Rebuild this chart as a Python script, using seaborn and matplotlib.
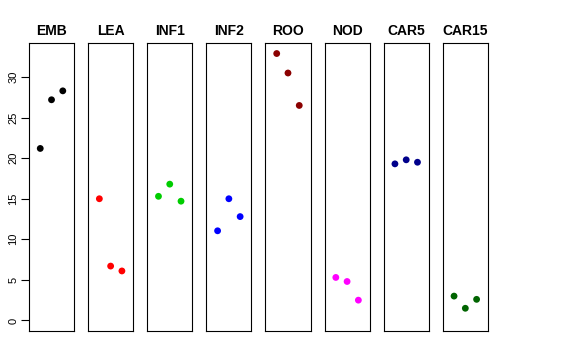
import pandas as pd
import seaborn as sns
import matplotlib.pyplot as plt

# Values (3 replicates per tissue)
tissues = ["EMB", "LEA", "INF1", "INF2", "ROO", "NOD", "CAR5", "CAR15"]
emb = [21.2, 27.2, 28.3]
lea = [15.0, 6.7, 6.1]
inf1 = [15.3, 16.8, 14.7]
inf2 = [11.05, 15.0, 12.8]
roo = [32.9, 30.5, 26.5]
nod = [5.3, 4.8, 2.5]
car5 = [19.3, 19.8, 19.5]
car15 = [3.0, 1.5, 2.6]
colors = ["black", "red", "#00CD00", "blue", "#8B0000", "magenta", "#00008B", "#006400"]
yticks = [0, 5, 10, 15, 20, 25, 30]

values = [emb, lea, inf1, inf2, roo, nod, car5, car15]
rows = []
for t, v in zip(tissues, values):
    for i, y in enumerate(v):
        rows.append({"tissue": t, "rep": i + 1, "value": y})
df = pd.DataFrame(rows)

sns.set_style("white")
plt.rcParams["font.family"] = ["Liberation Sans", "DejaVu Sans"]
plt.rcParams["text.color"] = "black"
plt.rcParams["ytick.color"] = "black"
plt.rcParams["ytick.labelcolor"] = "black"

fig, axes = plt.subplots(1, 8, figsize=(5.76, 3.6), dpi=100, sharey=True)
fig.subplots_adjust(left=0.0503, right=0.847, top=0.8806, bottom=0.0806, wspace=0.311)

for ax, t, c in zip(axes, tissues, colors):
    sub = df[df["tissue"] == t]
    sns.scatterplot(data=sub, x="rep", y="value", color=c, s=24, edgecolor="none", ax=ax)
    ax.set_xlim(0, 4)
    ax.set_ylim(-1.3, 34.2)
    ax.set_xticks([])
    ax.set_xlabel("")
    ax.set_ylabel("")
    ax.set_title(t, fontsize=10, fontweight="bold", pad=6, color="black")
    for sp in ax.spines.values():
        sp.set_color("black")
        sp.set_linewidth(0.8)

axes[0].set_yticks(yticks)
axes[0].tick_params(axis="y", left=True, length=5.5, width=0.8, labelsize=8, pad=2,
                    colors="black")
for lab in axes[0].get_yticklabels():
    lab.set_rotation(90)
    lab.set_va("center")
for ax in axes[1:]:
    ax.tick_params(axis="y", left=False, labelleft=False)

fig.savefig("out.png", dpi=100)
